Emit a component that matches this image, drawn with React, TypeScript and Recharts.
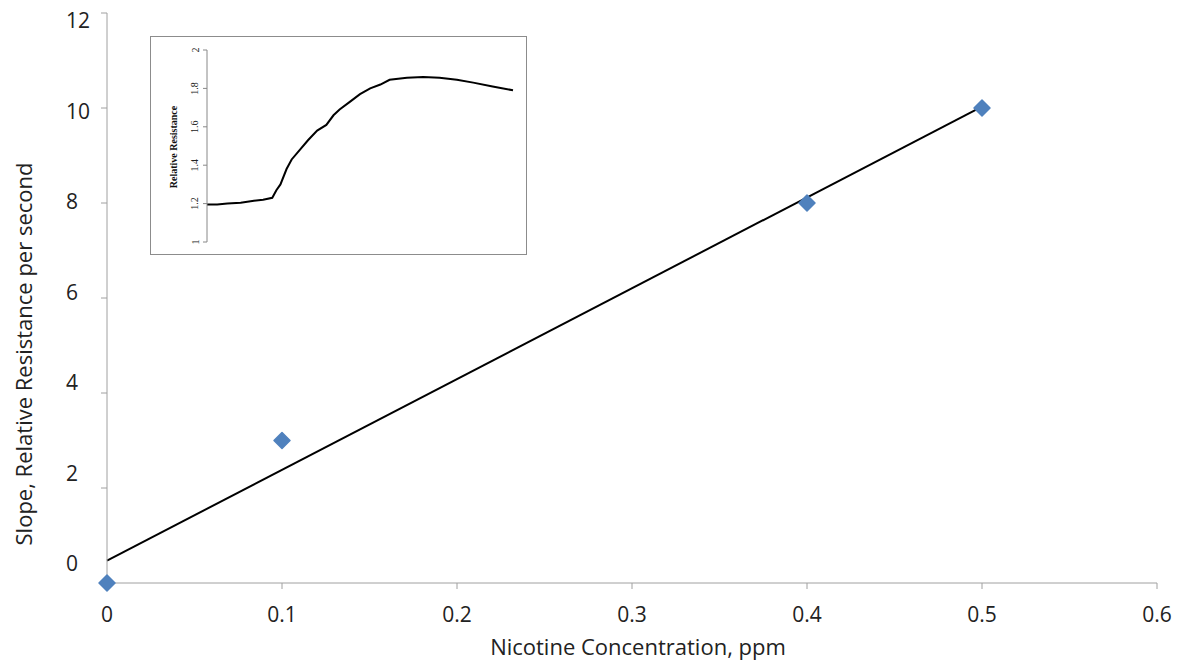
import {
  ComposedChart, Scatter, XAxis, YAxis, ReferenceLine, Label,
  LineChart, Line
} from 'recharts';

// main chart: nicotine concentration vs slope
const concentrations = [0, 0.1, 0.4, 0.5];
const slopes = [0, 3, 8, 10];
const xTicks = [0, 0.1, 0.2, 0.3, 0.4, 0.5, 0.6];
const yTicks = [0, 2, 4, 6, 8, 10, 12];

// inset: relative resistance over time
const insetTime = [0, 10, 20, 33, 46, 55, 64, 68, 72, 78, 83, 91, 99, 108, 117, 124, 130, 140, 150, 160, 170, 179, 196, 212, 228, 245, 261, 280, 300];
const insetResistance = [1.195, 1.195, 1.2, 1.205, 1.215, 1.22, 1.23, 1.27, 1.3, 1.38, 1.43, 1.48, 1.53, 1.58, 1.61, 1.66, 1.69, 1.73, 1.77, 1.8, 1.82, 1.845, 1.855, 1.86, 1.855, 1.845, 1.83, 1.81, 1.79];
const insetTicks = [1, 1.2, 1.4, 1.6, 1.8, 2];

const points = concentrations.map((x, i) => ({ x, y: slopes[i] }));
const inset = insetTime.map((t, i) => ({ t, r: insetResistance[i] }));

// linear trendline (least squares)
const n = concentrations.length;
const mx = concentrations.reduce((a, b) => a + b, 0) / n;
const my = slopes.reduce((a, b) => a + b, 0) / n;
let sxy = 0, sxx = 0;
concentrations.forEach((x, i) => { sxy += (x - mx) * (slopes[i] - my); sxx += (x - mx) ** 2; });
const slope = sxy / sxx;
const intercept = my - slope * mx;
const xEnd = concentrations[n - 1];

const FONT = '"Open Sans", sans-serif';

const Diamond = (props: any) => {
  const { cx, cy } = props;
  const r = 8;
  return (
    <polygon
      points={`${cx},${cy - r} ${cx + r},${cy} ${cx},${cy + r} ${cx - r},${cy}`}
      fill="#4F81BD"
      stroke="#4F81BD"
      strokeLinejoin="round"
      strokeWidth={1.5}
    />
  );
};

const YTick = (props: any) => {
  const { y, payload } = props;
  return (
    <text x={66} y={8.6 + 0.9526 * y} dy="0.35em" textAnchor="start" fontSize={21} fontFamily={FONT} fill="#222">
      {payload.value}
    </text>
  );
};

const InsetTick = (props: any) => {
  const { x, y, payload } = props;
  return (
    <text x={x} y={y} transform={`rotate(-90, ${x}, ${y})`} textAnchor="middle" dy="0.35em" fontSize={10} fontFamily='"Liberation Serif", serif' fill="#222">
      {payload.value}
    </text>
  );
};

export default function App() {
  return (
    <div style={{ position: 'absolute', left: 0, top: 0, width: 1181, height: 661, background: '#fff' }}>
      <ComposedChart width={1181} height={661} margin={{ top: 13, right: 24, bottom: 0, left: 0 }}>
        <XAxis
          dataKey="x"
          type="number"
          domain={[0, 0.6]}
          ticks={xTicks}
          height={78}
          stroke="#a0a0a0"
          tickSize={6}
          tickMargin={18}
          tick={{ fontSize: 21, fontFamily: FONT, fill: '#222' }}
        >
          <Label
            content={() => (
              <text x={638} y={655} textAnchor="middle" fontSize={22} fontFamily={FONT} fill="#222">
                Nicotine Concentration, ppm
              </text>
            )}
          />
        </XAxis>
        <YAxis
          dataKey="y"
          type="number"
          domain={[0, 12]}
          ticks={yTicks}
          width={107}
          stroke="#a0a0a0"
          tickSize={6}
          tick={<YTick />}
        >
          <Label
            content={() => (
              <text x={24} y={354} transform="rotate(-90, 24, 354)" textAnchor="middle" dy="0.35em" fontSize={22} fontFamily={FONT} fill="#222">
                Slope, Relative Resistance per second
              </text>
            )}
          />
        </YAxis>
        <ReferenceLine
          segment={[{ x: 0, y: intercept }, { x: xEnd, y: intercept + slope * xEnd }]}
          stroke="#000"
          strokeWidth={2}
        />
        <Scatter data={points} shape={<Diamond />} isAnimationActive={false} />
      </ComposedChart>

      <div style={{ position: 'absolute', left: 150, top: 36, width: 377, height: 219, border: '1px solid #8c8c8c', boxSizing: 'border-box', background: '#fff' }}>
        <LineChart width={375} height={217} data={inset} margin={{ top: 13, right: 13, bottom: 12, left: 0 }}>
          <XAxis dataKey="t" type="number" domain={[0, 300]} hide />
          <YAxis
            type="number"
            domain={[1, 2]}
            ticks={insetTicks}
            width={56}
            stroke="#888"
            tickSize={4}
            tickMargin={8}
            tick={<InsetTick />}
          >
            <Label
              content={() => (
                <text x={22} y={110} transform="rotate(-90, 22, 110)" textAnchor="middle" dy="0.35em" fontSize={10} fontWeight="bold" fontFamily='"Liberation Serif", serif' fill="#111">
                  Relative Resistance
                </text>
              )}
            />
          </YAxis>
          <Line dataKey="r" stroke="#000" strokeWidth={2} dot={false} isAnimationActive={false} type="linear" />
        </LineChart>
      </div>
    </div>
  );
}
